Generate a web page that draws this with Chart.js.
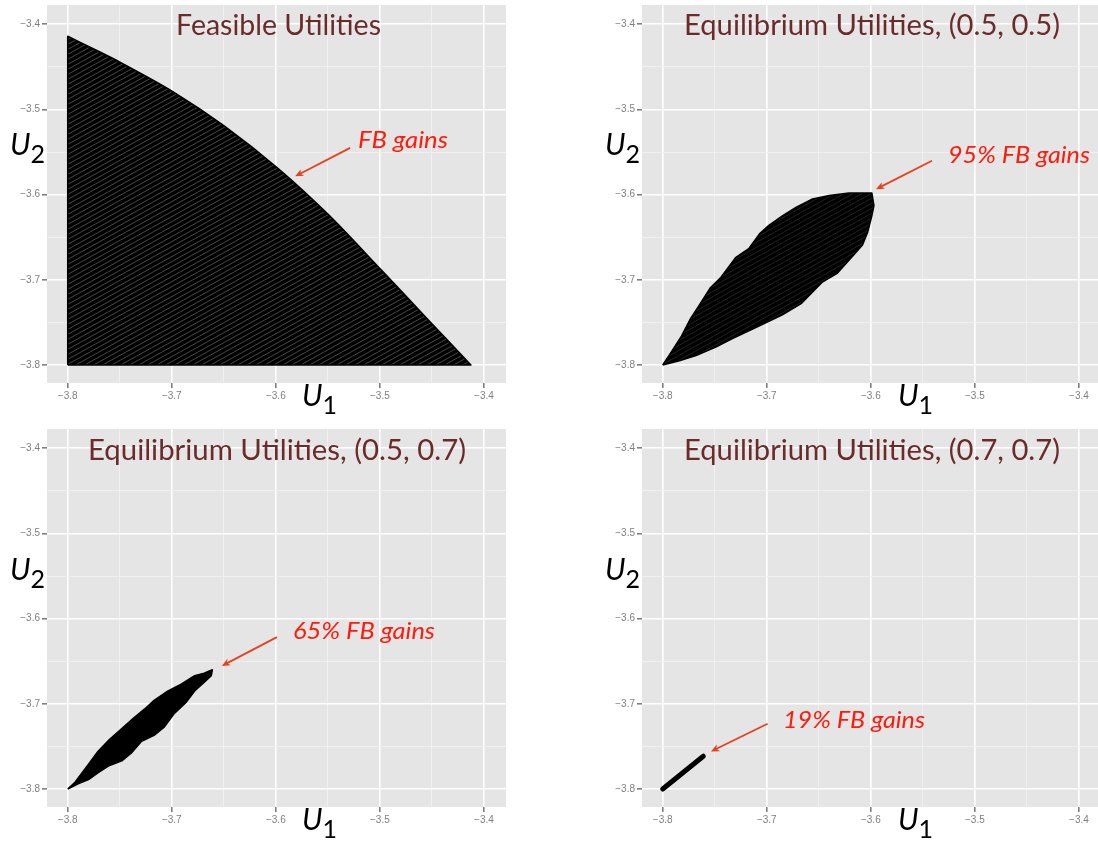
<!DOCTYPE html>
<html>
<head>
<meta charset="utf-8">
<script src="https://cdn.jsdelivr.net/npm/chart.js@4.4.1/dist/chart.umd.min.js"></script>
<style>
html, body { margin: 0; padding: 0; background: #fff; overflow: hidden; width: 1098px; height: 845px; }
body { position: relative; }
canvas { position: absolute; }
.lbl { position: absolute; white-space: nowrap; transform-origin: 0 0; line-height: 1.2; }
.bl { display: inline-block; width: 0; height: 0; }
.title { font-family: Lato, "Open Sans", sans-serif; color: #6b2b2b; font-size: 28px; }
.note { font-family: Lato, "Open Sans", sans-serif; font-style: italic; color: #ff1a0a; font-size: 23px; }
.axis { font-family: Lato, "Open Sans", sans-serif; font-style: italic; color: #000; font-size: 30px; }
.axis .sub { font-style: normal; font-size: 25px; position: relative; top: 8px; }
</style>
</head>
<body>
<script>
// axis breaks
const majorTicks = [-3.8, -3.7, -3.6, -3.5, -3.4];
const minorTicks = [-3.75, -3.65, -3.55, -3.45];
const axisMin = { x: -3.8199, y: -3.8211 };
const axisMax = { x: -3.3788, y: -3.3774 };

// outline of the feasible set (U1, U2); corners repeated so they stay sharp
const feasibleU1 = [-3.8, -3.8, -3.8, -3.8, -3.775, -3.749, -3.699, -3.650, -3.598, -3.549, -3.499, -3.455, -3.4125, -3.4125, -3.8, -3.8];
const feasibleU2 = [-3.8, -3.8, -3.414, -3.414, -3.429, -3.445, -3.479, -3.519, -3.569, -3.624, -3.688, -3.745, -3.8, -3.8, -3.8, -3.8];

// equilibrium set, (0.5, 0.5)
const eq55U1 = [-3.8, -3.794, -3.782, -3.773, -3.765, -3.754, -3.744, -3.730, -3.717, -3.707, -3.698, -3.685, -3.672, -3.656, -3.640, -3.621, -3.599,
                -3.597, -3.599, -3.603, -3.608, -3.618, -3.632, -3.647, -3.667, -3.685, -3.707, -3.733, -3.749, -3.768, -3.784, -3.8];
const eq55U2 = [-3.8, -3.789, -3.766, -3.745, -3.730, -3.709, -3.697, -3.674, -3.663, -3.646, -3.636, -3.625, -3.615, -3.605, -3.601, -3.598, -3.598,
                -3.613, -3.625, -3.644, -3.659, -3.673, -3.692, -3.703, -3.728, -3.741, -3.754, -3.769, -3.779, -3.789, -3.795, -3.8];

// equilibrium set, (0.5, 0.7)
const eq57U1 = [-3.8, -3.793, -3.780, -3.771, -3.760, -3.748, -3.737, -3.726, -3.717, -3.704, -3.691, -3.678, -3.669, -3.661,
                -3.662, -3.669, -3.678, -3.686, -3.698, -3.707, -3.717, -3.729, -3.739, -3.748, -3.761, -3.771, -3.780, -3.790, -3.8];
const eq57U2 = [-3.8, -3.792, -3.771, -3.756, -3.742, -3.729, -3.717, -3.706, -3.696, -3.685, -3.677, -3.667, -3.664, -3.660,
                -3.667, -3.675, -3.685, -3.698, -3.712, -3.727, -3.737, -3.744, -3.758, -3.767, -3.773, -3.781, -3.789, -3.794, -3.8];

// equilibrium set, (0.7, 0.7)
const eq77U1 = [-3.8, -3.761];
const eq77U2 = [-3.8, -3.7615];

const titles = ['Feasible Utilities', 'Equilibrium Utilities, (0.5, 0.5)', 'Equilibrium Utilities, (0.5, 0.7)', 'Equilibrium Utilities, (0.7, 0.7)'];
const notes = ['FB gains', '95% FB gains', '65% FB gains', '19% FB gains'];

const isMajor = v => majorTicks.some(m => Math.abs(m - v) < 1e-6);
const pts = (a, b) => a.map((x, i) => ({ x: x, y: b[i] }));

function stripes(col) {
    const t = document.createElement('canvas');
    t.width = 9; t.height = 5;
    const g = t.getContext('2d');
    g.fillStyle = '#000';
    g.fillRect(0, 0, 9, 5);
    g.strokeStyle = col;
    g.lineWidth = 0.8;
    for (const dx of [-9, 0, 9]) {
        g.beginPath();
        g.moveTo(dx - 1, 5 + 5 / 9);
        g.lineTo(dx + 10, -5 / 9);
        g.stroke();
    }
    return g.createPattern(t, 'repeat');
}

const panelBg = {
    id: 'panelBg',
    beforeDraw(chart) {
        const { ctx, chartArea: a } = chart;
        ctx.save();
        ctx.fillStyle = '#e5e5e5';
        ctx.fillRect(a.left, a.top, a.right - a.left, a.bottom - a.top);
        ctx.restore();
    }
};

const arrowPlugin = {
    id: 'arrow',
    afterDatasetsDraw(chart, args, opts) {
        if (!opts.from) return;
        const { ctx, scales } = chart;
        const x0 = scales.x.getPixelForValue(opts.from[0]), y0 = scales.y.getPixelForValue(opts.from[1]);
        const x1 = scales.x.getPixelForValue(opts.to[0]), y1 = scales.y.getPixelForValue(opts.to[1]);
        const ang = Math.atan2(y1 - y0, x1 - x0);
        ctx.save();
        ctx.strokeStyle = '#e8401c';
        ctx.fillStyle = '#e8401c';
        ctx.lineWidth = 1.8;
        ctx.beginPath();
        ctx.moveTo(x0, y0);
        ctx.lineTo(x1 - 5 * Math.cos(ang), y1 - 5 * Math.sin(ang));
        ctx.stroke();
        ctx.beginPath();
        ctx.moveTo(x1, y1);
        ctx.lineTo(x1 - 9 * Math.cos(ang - 0.42), y1 - 9 * Math.sin(ang - 0.42));
        ctx.lineTo(x1 - 6 * Math.cos(ang), y1 - 6 * Math.sin(ang));
        ctx.lineTo(x1 - 9 * Math.cos(ang + 0.42), y1 - 9 * Math.sin(ang + 0.42));
        ctx.closePath();
        ctx.fill();
        ctx.restore();
    }
};

function axisOpts(key) {
    const isX = key === 'x';
    return {
        type: 'linear',
        min: axisMin[key],
        max: axisMax[key],
        afterBuildTicks: s => { s.ticks = majorTicks.concat(minorTicks).sort((a, b) => a - b).map(v => ({ value: v })); },
        afterFit: s => { if (isX) s.height = 34; else s.width = 47; },
        border: { display: false },
        grid: {
            color: c => (c.tick && isMajor(c.tick.value)) ? '#ffffff' : '#f2f2f2',
            lineWidth: c => (c.tick && isMajor(c.tick.value)) ? 1.6 : 0.8,
            tickColor: c => (c.tick && isMajor(c.tick.value)) ? '#7f7f7f' : 'rgba(0,0,0,0)',
            tickLength: 5,
            drawTicks: true
        },
        ticks: {
            color: '#7f7f7f',
            font: { family: '"Liberation Sans", Arial, sans-serif', size: 10 },
            padding: 2,
            autoSkip: false,
            maxRotation: 0,
            callback: v => isMajor(v) ? '\u2212' + Math.abs(v).toFixed(1) : ''
        }
    };
}

function makePanel(left, top, dataset, arrow) {
    const cv = document.createElement('canvas');
    cv.width = 548; cv.height = 420;
    cv.style.left = left + 'px';
    cv.style.top = top + 'px';
    document.body.appendChild(cv);
    new Chart(cv, {
        type: 'scatter',
        data: { datasets: [dataset] },
        options: {
            responsive: false,
            animation: false,
            events: [],
            layout: { padding: { left: 0, right: 42, top: 0, bottom: 0 } },
            plugins: { legend: { display: false }, tooltip: { enabled: false }, arrow: arrow },
            scales: { x: axisOpts('x'), y: axisOpts('y') }
        },
        plugins: [panelBg, arrowPlugin]
    });
}

function region(u1, u2, fillStyle, tension) {
    return {
        data: pts(u1, u2),
        showLine: true,
        fill: 'shape',
        backgroundColor: fillStyle,
        borderColor: '#000',
        borderWidth: 1.5,
        borderJoinStyle: 'round',
        pointRadius: 0,
        tension: tension
    };
}

makePanel(0, -3, region(feasibleU1, feasibleU2, stripes('#5a5a5a'), 0.3),
    { from: [-3.5286, -3.5451], to: [-3.5814, -3.5784] });
makePanel(595, -3, region(eq55U1, eq55U2, stripes('#2a2a2a'), 0),
    { from: [-3.5412, -3.5603], to: [-3.5950, -3.5936] });
makePanel(0, 421, region(eq57U1, eq57U2, '#000', 0),
    { from: [-3.599, -3.6217], to: [-3.6519, -3.6555] });
makePanel(595, 421, {
    data: pts(eq77U1, eq77U2),
    showLine: true,
    borderColor: '#000',
    borderWidth: 5,
    borderCapStyle: 'round',
    pointRadius: 0
}, { from: [-3.6992, -3.7234], to: [-3.7536, -3.7559] });

// text overlays: [class, html, left, baseline, width]
const labels = [
    ['title', titles[0], 176, 35, 205],
    ['title', titles[1], 684, 35, 376],
    ['title', titles[2], 88, 460, 378],
    ['title', titles[3], 684, 460, 376],
    ['note', notes[0], 358, 148, 90],
    ['note', notes[1], 948, 163, 142],
    ['note', notes[2], 293, 639, 142],
    ['note', notes[3], 783, 728, 142],
    ['axis', 'U<span class="sub">2</span>', 10, 155, 0],
    ['axis', 'U<span class="sub">2</span>', 605, 155, 0],
    ['axis', 'U<span class="sub">2</span>', 10, 580, 0],
    ['axis', 'U<span class="sub">2</span>', 605, 580, 0],
    ['axis', 'U<span class="sub">1</span>', 302, 406, 0],
    ['axis', 'U<span class="sub">1</span>', 898, 406, 0],
    ['axis', 'U<span class="sub">1</span>', 302, 830, 0],
    ['axis', 'U<span class="sub">1</span>', 898, 830, 0]
];

const els = labels.map(l => {
    const d = document.createElement('div');
    d.className = 'lbl ' + l[0];
    d.innerHTML = l[1] + '<span class="bl"></span>';
    document.body.appendChild(d);
    return d;
});

function placeLabels() {
    labels.forEach((l, i) => {
        const d = els[i];
        d.style.transform = '';
        d.style.left = l[2] + 'px';
        d.style.top = '0px';
        const off = d.querySelector('.bl').getBoundingClientRect().top - d.getBoundingClientRect().top;
        d.style.top = (l[3] - off) + 'px';
        if (l[4]) {
            const w = d.getBoundingClientRect().width;
            d.style.transform = 'scaleX(' + (l[4] / w) + ')';
        }
    });
}
placeLabels();
if (document.fonts) document.fonts.ready.then(placeLabels);
</script>
</body>
</html>
